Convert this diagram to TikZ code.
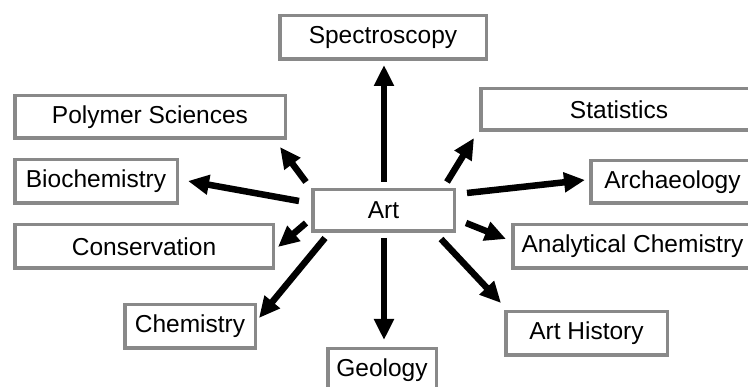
\documentclass[tikz,border=0pt]{standalone}
\usepackage{fontspec}
\setmainfont{Liberation Sans}
\usetikzlibrary{arrows.meta}
\definecolor{boxgray}{RGB}{137,137,137}
\tikzset{
  topic/.style={draw=boxgray, line width=3.5pt, fill=white, inner sep=0pt,
    font=\fontsize{24.5pt}{28pt}\selectfont, text=black},
  link/.style={line width=6.5pt, draw=black,
    -{Triangle[length=21pt,width=19pt]}}
}
\begin{document}
\begin{tikzpicture}[x=1pt,y=-1pt]
\useasboundingbox (0,0) rectangle (748,387);
\clip (0,0) rectangle (748,387);
% boxes: outer extents converted to centre and size
\node[topic, minimum width=206.5pt, minimum height=43.5pt] (spec) at (383,37.5) {Spectroscopy};
\node[topic, minimum width=270.5pt, minimum height=42.5pt] (poly) at (150,117) {Polymer Sciences};
\node[topic, minimum width=162.5pt, minimum height=43.5pt] (bio) at (96,181.5) {Biochemistry};
\node[topic, minimum width=141.5pt, minimum height=41.5pt] (art) at (383.5,210.5) {Art};
\node[topic, minimum width=258.5pt, minimum height=43.5pt] (cons) at (144,246.5) {Conservation};
\node[topic, minimum width=130.5pt, minimum height=43.5pt] (chem) at (190,326.5) {Chemistry};
\node[topic, minimum width=108.5pt, minimum height=42.5pt] (geo) at (382,370) {Geology};
\node[topic, minimum width=276.5pt, minimum height=41.5pt] (stat) at (619,109.5) {Statistics};
\node[topic, minimum width=163.5pt, minimum height=42.5pt] (arch) at (672.5,182) {Archaeology};
\node[topic, minimum width=239.5pt, minimum height=43.5pt] (anal) at (632.5,246.5) {Analytical Chemistry};
\node[topic, minimum width=161.5pt, minimum height=43.5pt] (hist) at (586.5,333.5) {Art History};
% arrow end points
\coordinate (aSpec) at (384,182);  \coordinate (tSpec) at (384,65);
\coordinate (aPoly) at (306,182);  \coordinate (tPoly) at (280,147);
\coordinate (aBio)  at (299,201);  \coordinate (tBio)  at (188,181);
\coordinate (aCons) at (306,223);  \coordinate (tCons) at (278,247);
\coordinate (aChem) at (325,238);  \coordinate (tChem) at (259,318);
\coordinate (aGeo)  at (384,238);  \coordinate (tGeo)  at (384,340);
\coordinate (aHist) at (441,239);  \coordinate (tHist) at (501,303);
\coordinate (aAnal) at (466,223);  \coordinate (tAnal) at (506,239);
\coordinate (aArch) at (467,193);  \coordinate (tArch) at (585,180);
\coordinate (aStat) at (447,182);  \coordinate (tStat) at (474,138);
\foreach \n in {Spec,Poly,Bio,Cons,Chem,Geo,Hist,Anal,Arch,Stat}
  \draw[link] (a\n) -- (t\n);
\end{tikzpicture}
\end{document}
